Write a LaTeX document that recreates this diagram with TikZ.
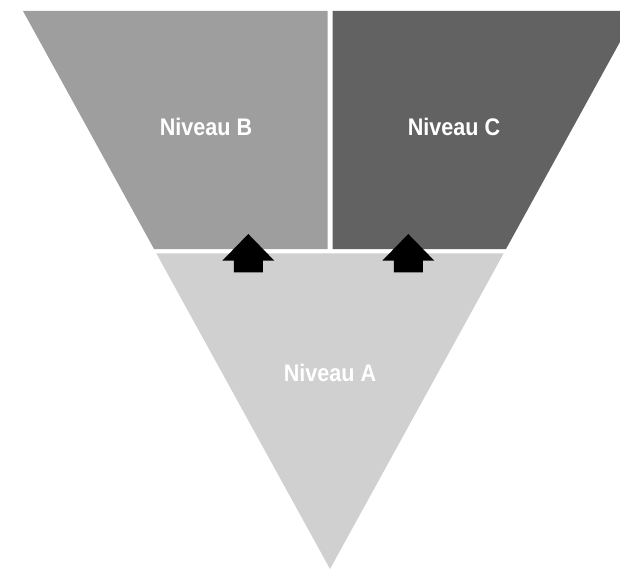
\documentclass[tikz,border=0pt]{standalone}
\usepackage{fontspec}
\setmainfont{Liberation Sans}[FakeStretch=0.9]
\usepackage{tikz}
\usetikzlibrary{positioning}
\definecolor{levelA}{HTML}{D0D0D0}
\definecolor{levelB}{HTML}{9E9E9E}
\definecolor{levelC}{HTML}{626262}

\begin{document}
\begin{tikzpicture}[x=1pt,y=-1pt,
    level/.style={font=\bfseries\fontsize{24}{28}\selectfont,text=white},
    upblock/.pic={\fill[black] (0,0) -- (26,26.7) -- (14.5,26.7) -- (14.5,38.3)
      -- (-14.5,38.3) -- (-14.5,26.7) -- (-26,26.7) -- cycle;}]
    \useasboundingbox (0,0) rectangle (620,569);
    \clip (0,0) rectangle (620,569);
    % the three parts of the funnel
    \fill[levelB] (23,11) -- (327.5,11) -- (327.5,249) -- (154,249) -- cycle;
    \fill[levelC] (332.5,11) -- (637,11) -- (506,249) -- (332.5,249) -- cycle;
    \fill[levelA] (156.3,253.3) -- (503.7,253.3) -- (330,569) -- cycle;
    \node[level] (B) at (206,127) {Niveau B};
    \node[level] (C) at (454,127) {Niveau C};
    \node[level] (A) at (330,373) {Niveau A};
    % arrows from A up to B and C
    \pic at (248.3,234) {upblock};
    \pic at (408.3,234) {upblock};
\end{tikzpicture}
\end{document}
